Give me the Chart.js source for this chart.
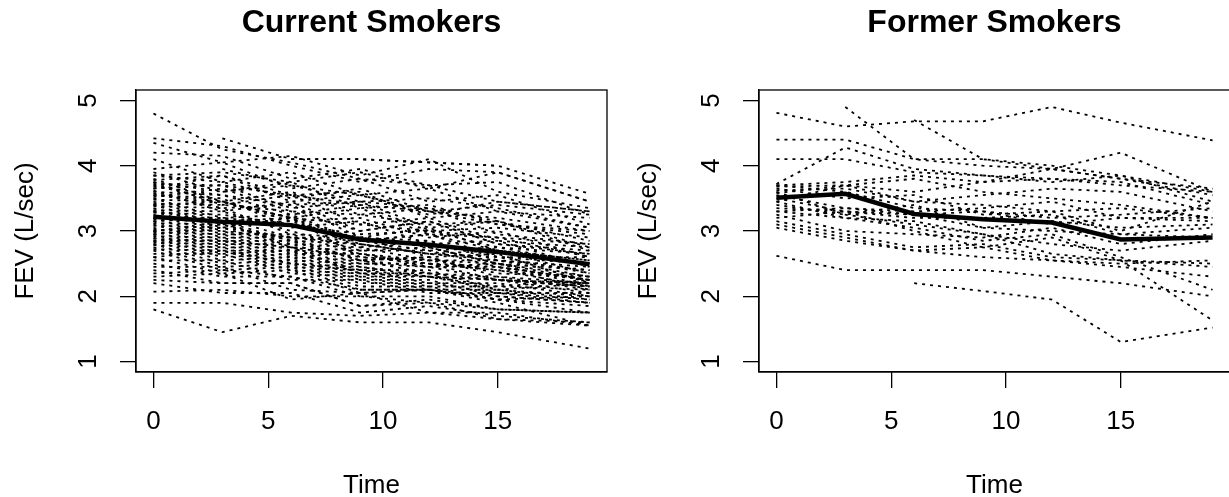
<!DOCTYPE html>
<html>
<head>
<meta charset="utf-8">
<title>FEV by smoking status</title>
<script src="https://cdn.jsdelivr.net/npm/chart.js@4"></script>
<style>
  html, body { margin: 0; padding: 0; background: #fff; width: 1229px; height: 497px; overflow: hidden; }
  .panel { position: absolute; top: 0; width: 620px; height: 510px; }
  #leftPanel { left: 0; }
  #rightPanel { left: 623px; }
</style>
</head>
<body>
<div class="panel" id="leftPanel"><canvas id="currentChart" width="620" height="510"></canvas></div>
<div class="panel" id="rightPanel"><canvas id="formerChart" width="620" height="510"></canvas></div>
<script>
// measurement times (years)
const times = [0, 3, 6, 9, 12, 15, 19];
const xTicks = [0, 5, 10, 15];
const yTicks = [1, 2, 3, 4, 5];

// mean FEV per time
const currentMean = [3.22, 3.14, 3.09, 2.87, 2.79, 2.68, 2.49];
const formerMean = [3.51, 3.57, 3.26, 3.18, 3.13, 2.87, 2.90];

// one row per subject, values at each time (null = missing)
const currentSubjects = [
  [4.80, 4.25, 4.05, 3.80, 3.70, 3.45, 3.30],
  [null, 4.42, 4.10, 4.10, 4.05, 4.00, 3.57],
  [4.42, 4.30, 4.00, 3.75, 3.95, 3.90, 3.45],
  [4.35, 4.05, 4.15, 3.85, 4.10, 3.60, 3.35],
  [4.20, 4.15, 3.80, 3.95, 3.70, 3.75, 3.25],
  [4.10, 3.75, 3.90, 3.55, 3.65, 3.30, 3.20],
  [3.95, 4.05, 3.65, 3.80, 3.45, 3.55, 3.10],
  [3.90, 3.60, 3.75, 3.35, 3.40, 3.10, 2.95],
  [3.85, 3.75, 3.50, 3.65, 3.30, 3.40, 3.25],
  [3.80, 3.45, 3.60, 3.25, 3.35, 2.95, 2.80],
  [3.78, 3.85, 3.45, 3.55, 3.25, 3.45, 3.30],
  [3.75, 3.40, 3.55, 3.10, 3.20, 2.85, 2.75],
  [3.72, 3.70, 3.35, 3.45, 3.05, 3.15, 2.70],
  [3.70, 3.45, 3.20, 3.35, 2.95, 2.90, 2.60],
  [3.65, 3.85, 3.55, 3.60, 3.20, 3.30, 3.05],
  [3.62, 3.30, 3.45, 3.00, 3.15, 2.80, 2.65],
  [3.60, 3.55, 3.25, 3.40, 3.00, 3.05, 2.90],
  [3.58, 3.35, 3.40, 2.90, 3.05, 2.70, 2.55],
  [3.55, 3.50, 3.05, 3.15, 2.80, 2.85, 2.45],
  [3.52, 3.65, 3.30, 3.25, 3.10, 3.15, 2.75],
  [3.50, 3.20, 3.25, 2.85, 2.95, 2.60, 2.50],
  [3.48, 3.45, 3.15, 3.20, 2.90, 3.00, 2.60],
  [3.45, 3.15, 3.20, 2.75, 2.85, 2.55, 2.40],
  [3.42, 3.40, 3.30, 3.00, 3.15, 2.80, 2.70],
  [3.40, 3.10, 3.15, 2.80, 2.65, 2.70, 2.35],
  [3.38, 3.35, 2.95, 2.90, 2.75, 2.50, 2.30],
  [3.35, 3.05, 3.20, 2.85, 2.95, 2.70, 2.55],
  [3.32, 3.30, 3.00, 2.70, 2.70, 2.45, 2.25],
  [3.30, 3.00, 2.90, 2.90, 2.60, 2.65, 2.20],
  [3.28, 3.25, 3.10, 2.95, 3.00, 2.75, 2.65],
  [3.25, 2.95, 2.95, 2.65, 2.55, 2.50, 2.15],
  [3.22, 3.20, 2.90, 2.85, 2.70, 2.75, 2.50],
  [3.20, 2.90, 2.90, 2.55, 2.60, 2.30, 2.20],
  [3.18, 3.15, 2.85, 2.80, 2.65, 2.60, 2.35],
  [3.15, 2.85, 2.85, 2.55, 2.45, 2.45, 2.10],
  [3.12, 3.10, 2.80, 2.75, 2.55, 2.55, 2.30],
  [3.10, 2.80, 2.80, 2.50, 2.50, 2.25, 2.20],
  [3.08, 3.05, 2.75, 2.70, 2.75, 2.50, 2.40],
  [3.05, 2.75, 2.75, 2.45, 2.35, 2.25, 2.05],
  [3.02, 3.00, 2.70, 2.65, 2.45, 2.50, 2.25],
  [3.00, 2.70, 2.70, 2.40, 2.40, 2.10, 2.00],
  [2.98, 2.95, 2.65, 2.65, 2.50, 2.40, 2.15],
  [2.95, 2.65, 2.70, 2.35, 2.35, 2.05, 1.95],
  [2.92, 2.90, 2.60, 2.55, 2.35, 2.30, 2.10],
  [2.90, 2.60, 2.65, 2.30, 2.30, 2.10, 2.20],
  [2.88, 2.85, 2.55, 2.50, 2.45, 2.25, 2.20],
  [2.85, 2.55, 2.60, 2.25, 2.25, 2.00, 1.90],
  [2.82, 2.80, 2.50, 2.45, 2.30, 2.25, 2.15],
  [2.80, 2.50, 2.55, 2.20, 2.20, 2.05, 2.05],
  [2.78, 2.75, 2.45, 2.40, 2.20, 2.20, 2.00],
  [2.75, 2.45, 2.50, 2.15, 2.15, 1.95, 1.85],
  [2.72, 2.70, 2.40, 2.35, 2.15, 2.15, 2.25],
  [2.70, 2.40, 2.45, 2.10, 2.10, 1.95, 1.75],
  [2.65, 2.65, 2.35, 2.30, 2.10, 2.10, 1.95],
  [2.60, 2.35, 2.40, 2.05, 2.10, 1.95, 2.00],
  [2.55, 2.55, 2.25, 2.25, 2.05, 2.05, 1.90],
  [2.50, 2.30, 2.30, 2.00, 2.00, 1.80, 1.75],
  [2.45, 2.45, 2.10, 2.05, 2.10, 1.90, 1.55],
  [2.40, 2.20, 2.20, 1.85, 1.90, 1.65, 1.60],
  [2.30, 2.35, 1.95, 2.05, 1.75, 1.75, 1.55],
  [2.20, 2.05, 2.05, 1.75, 1.85, 1.70, 1.60],
  [2.07, 2.10, 2.00, 2.00, 1.90, 1.80, 1.75],
  [1.90, 1.90, 1.75, 1.70, 1.75, 1.65, 1.55],
  [1.80, 1.45, 1.70, 1.60, 1.60, 1.45, 1.20],
  [null, 3.95, 3.70, 3.45, 3.50, 3.35, 3.05],
  [3.85, 3.90, 3.75, 3.90, 3.65, 3.90, 3.45],
  [null, null, 4.10, 4.10, 4.05, 4.00, null],
  [3.68, 3.55, 3.40, 3.45, 3.35, 3.15, 2.85],
  [3.40, 3.45, 3.20, 3.10, 3.00, 2.90, 2.80],
  [2.95, 3.05, 2.90, 2.80, 2.65, 2.55, 2.45],
  [3.15, 3.20, 3.10, 2.90, 2.85, 2.60, 2.60],
  [2.60, 2.70, 2.50, 2.40, 2.30, 2.15, 2.10],
  [3.55, 3.45, 3.20, 2.60, 2.50, 2.45, 2.25],
  [2.85, 2.85, 2.75, 2.35, 2.30, 2.25, 2.15],
  [3.75, 3.60, 3.70, 3.55, 3.30, 3.20, 3.00],
  [2.35, 2.40, 2.30, 2.10, 2.10, 2.00, 1.90],
  [3.30, 3.15, 2.75, 2.60, 2.55, 2.40, 2.25],
  [2.25, 2.20, 2.20, 1.85, 1.95, 1.80, 1.75],
  [3.65, 3.70, 3.55, 3.40, 3.30, 3.10, 3.00],
  [3.00, 3.10, 2.85, 2.55, 2.60, 2.35, 2.30]
];

const formerSubjects = [
  [4.81, 4.60, 4.68, 4.68, 4.90, 4.66, 4.39],
  [null, 4.90, 4.10, 4.10, 4.00, 3.85, 3.60],
  [4.40, 4.40, 4.10, 4.00, 3.95, 3.80, 3.65],
  [4.10, 4.10, 3.90, 3.85, 3.80, 3.70, 3.60],
  [3.72, 4.28, 3.95, 3.85, 3.75, 3.85, 3.45],
  [null, null, 4.70, 4.10, 3.95, 4.20, 3.60],
  [3.70, 3.75, 3.85, 3.75, 3.80, 3.75, 3.40],
  [3.68, 3.70, 3.60, 3.75, 3.95, 3.80, 3.55],
  [3.62, 3.65, 3.45, 3.55, 3.65, 3.60, 3.30],
  [3.55, 3.35, 3.30, 3.35, 3.45, 3.20, 3.15],
  [3.50, 3.30, 3.25, 3.30, 3.20, 3.25, 3.35],
  [3.45, 3.70, 3.45, 3.40, 3.30, 3.35, 3.20],
  [3.40, 3.25, 3.40, 3.05, 3.15, 3.05, 3.10],
  [3.35, 3.30, 3.20, 3.20, 3.25, 2.95, 2.90],
  [3.30, 3.20, 3.15, 2.95, 2.80, 2.70, 2.85],
  [3.25, 3.00, 2.95, 2.90, 3.05, 2.80, 2.95],
  [3.20, 3.30, 3.00, 2.75, 2.90, 2.55, 2.50],
  [3.15, 2.95, 2.75, 2.80, 2.60, 2.55, 2.45],
  [3.10, 2.90, 2.70, 2.75, 2.55, 2.50, 2.55],
  [3.05, 2.85, 2.70, 2.60, 2.55, 2.45, 2.30],
  [2.62, 2.40, 2.40, 2.40, 2.30, 2.20, 2.00],
  [null, null, 2.20, 2.08, 1.95, 1.30, 1.52],
  [3.60, 3.25, 3.10, 2.95, 2.65, 2.55, 1.63],
  [3.45, 3.20, 3.05, 2.85, 2.95, 2.60, 2.10],
  [3.70, 3.60, 3.35, 3.30, 3.10, 3.20, 3.20],
  [3.65, 3.50, 3.55, 3.25, 3.30, 3.00, 3.45],
  [3.30, 3.35, 3.25, 3.05, 3.00, 2.95, 3.05],
  [3.58, 3.70, 3.80, 3.60, 3.50, 3.40, 3.20]
];

const FONT = "'Liberation Sans', Arial, Helvetica, sans-serif";
Chart.defaults.font.family = FONT;
Chart.defaults.color = "#000";

function toPoints(values) {
  return times.map((t, i) => ({ x: t, y: values[i] }));
}

// R-style box round the plot region
const boxPlugin = {
  id: "box",
  afterDraw(chart) {
    const { ctx, chartArea: a } = chart;
    ctx.save();
    ctx.strokeStyle = "#000";
    ctx.lineWidth = 1.3;
    ctx.strokeRect(a.left, a.top, a.right - a.left, a.bottom - a.top);
    ctx.restore();
  },
};

function makeChart(canvasId, title, subjects, mean) {
  const datasets = subjects.map((row) => ({
    data: toPoints(row),
    borderColor: "#000",
    borderWidth: 1.8,
    borderDash: [3, 5],
    borderCapStyle: "butt",
    pointRadius: 0,
    tension: 0,
    spanGaps: true,
    fill: false,
  }));
  datasets.push({
    data: toPoints(mean),
    borderColor: "#000",
    borderWidth: 4.5,
    pointRadius: 0,
    tension: 0,
    spanGaps: true,
    fill: false,
    order: -1,
  });

  return new Chart(document.getElementById(canvasId), {
    type: "line",
    data: { datasets },
    options: {
      responsive: false,
      animation: false,
      devicePixelRatio: 1,
      layout: { padding: { left: 0, right: 13, top: 0, bottom: 0 } },
      plugins: {
        legend: { display: false },
        tooltip: { enabled: false },
        title: {
          display: true,
          text: title,
          fullSize: false,
          color: "#000",
          font: { size: 32, weight: "bold", lineHeight: 1.2 },
          padding: { top: 4, bottom: 47.6 },
        },
      },
      scales: {
        x: {
          type: "linear",
          min: -0.76,
          max: 19.76,
          afterFit: (s) => { s.height = 138; },
          afterBuildTicks: (s) => { s.ticks = xTicks.map((v) => ({ value: v })); },
          grid: { drawOnChartArea: false, drawTicks: true, tickLength: 16, color: "#000", lineWidth: 1.3 },
          border: { display: true, color: "#000", width: 1.3 },
          ticks: { autoSkip: false, maxRotation: 0, padding: 18, font: { size: 26 }, color: "#000" },
          title: { display: true, text: "Time", font: { size: 26 }, color: "#000", padding: { top: 0, bottom: 8.4 } },
        },
        y: {
          type: "linear",
          min: 0.84,
          max: 5.16,
          afterFit: (s) => { s.width = 136; },
          afterBuildTicks: (s) => { s.ticks = yTicks.map((v) => ({ value: v })); },
          grid: { drawOnChartArea: false, drawTicks: true, tickLength: 16, color: "#000", lineWidth: 1.3 },
          border: { display: true, color: "#000", width: 1.3 },
          ticks: {
            autoSkip: false, minRotation: 90, maxRotation: 90, crossAlign: "center",
            padding: 24, font: { size: 26 }, color: "#000",
          },
          title: { display: true, text: "FEV (L/sec)", font: { size: 26 }, color: "#000", padding: { top: 10, bottom: 0 } },
        },
      },
    },
    plugins: [boxPlugin],
  });
}

makeChart("currentChart", "Current Smokers", currentSubjects, currentMean);
makeChart("formerChart", "Former Smokers", formerSubjects, formerMean);
</script>
</body>
</html>
